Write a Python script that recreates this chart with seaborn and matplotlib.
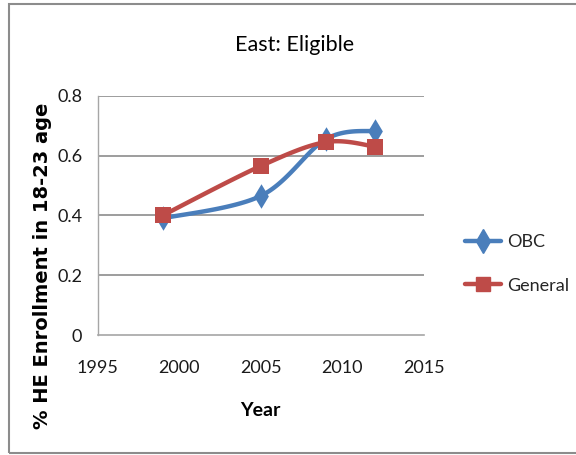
import numpy as np
import matplotlib
matplotlib.use("Agg")
import matplotlib.pyplot as plt
from matplotlib.lines import Line2D
from matplotlib.patches import Rectangle
import seaborn as sns

# Data
years = [1999, 2005, 2009, 2012]
obc = [0.39, 0.465, 0.655, 0.683]
general = [0.40, 0.565, 0.645, 0.63]
series_names = ["OBC", "General"]
x_ticks = [1995, 2000, 2005, 2010, 2015]
y_ticks = [0, 0.2, 0.4, 0.6, 0.8]
y_tick_labels = ["0", "0.2", "0.4", "0.6", "0.8"]

colors = {"OBC": "#4A7EBB", "General": "#BE4B48"}
markers = {"OBC": "d", "General": "s"}
msizes = {"OBC": 12.5, "General": 11}

sns.set_theme(style="white")
plt.rcParams["font.family"] = ["Lato", "DejaVu Sans"]


def smooth_curve(xs, ys, n=40):
    """Cubic Bezier smoothing through the points (Catmull-Rom style)."""
    xs = np.asarray(xs, float)
    ys = np.asarray(ys, float)
    px = np.concatenate([[xs[0]], xs, [xs[-1]]])
    py = np.concatenate([[ys[0]], ys, [ys[-1]]])
    out_x, out_y = [], []
    t = np.linspace(0, 1, n)
    for i in range(1, len(px) - 2):
        p0 = np.array([px[i], py[i]])
        p3 = np.array([px[i + 1], py[i + 1]])
        c1 = p0 + (np.array([px[i + 1], py[i + 1]]) - np.array([px[i - 1], py[i - 1]])) / 6
        c2 = p3 - (np.array([px[i + 2], py[i + 2]]) - np.array([px[i], py[i]])) / 6
        b = ((1 - t) ** 3)[:, None] * p0 + (3 * (1 - t) ** 2 * t)[:, None] * c1 \
            + (3 * (1 - t) * t ** 2)[:, None] * c2 + (t ** 3)[:, None] * p3
        out_x.extend(b[:, 0])
        out_y.extend(b[:, 1])
    return np.array(out_x), np.array(out_y)


fig = plt.figure(figsize=(5.76, 4.55), dpi=100)
ax = fig.add_axes([97.5 / 576, 1 - 335 / 455, (424 - 97.5) / 576, (335 - 95.7) / 455])

for name, vals in zip(series_names, [obc, general]):
    sx, sy = smooth_curve(years, vals)
    sns.lineplot(x=sx, y=sy, sort=False, estimator=None, ax=ax,
                 color=colors[name], linewidth=3.2, zorder=3)
    sns.scatterplot(x=years, y=vals, ax=ax, marker=markers[name],
                    s=msizes[name] ** 2, color=colors[name],
                    edgecolor=colors[name], linewidth=0, zorder=4)

ax.set_xlim(1995, 2015)
ax.set_ylim(0, 0.8)
ax.set_xticks(x_ticks)
ax.set_xticklabels([str(v) for v in x_ticks], fontsize=13)
ax.set_yticks(y_ticks)
ax.set_yticklabels(y_tick_labels, fontsize=13)
ax.tick_params(axis="x", length=0, pad=18, colors="#1A1A1A")
ax.tick_params(axis="y", length=0, pad=11, colors="#1A1A1A")

for yv in y_ticks[1:]:
    ax.axhline(yv, color="#8C8C8C", linewidth=1.2, zorder=1)

for side in ["top", "right"]:
    ax.spines[side].set_visible(False)
ax.spines["left"].set_color("#A6A6A6")
ax.spines["bottom"].set_color("#A6A6A6")
ax.spines["left"].set_linewidth(1.0)
ax.spines["bottom"].set_linewidth(1.2)

ax.set_xlabel("Year", fontsize=14, fontweight="bold", labelpad=19, color="#000000")
ax.set_ylabel("")
fig.text(43 / 576, 1 - 266 / 455, "% HE Enrollment in 18-23 age", rotation=90,
         ha="center", va="center", fontsize=14, fontweight="bold",
         family=["DejaVu Sans"], color="#000000")

fig.text(295 / 576, 1 - 45 / 455, "East: Eligible", ha="center", va="center",
         fontsize=15.5, color="#000000")

handles = [Line2D([0], [0], color=colors[n], linewidth=3.2, marker=markers[n],
                  markersize=msizes[n] * 0.95) for n in series_names]
leg = fig.legend(handles, series_names, loc="center left",
                 bbox_to_anchor=(458 / 576, 1 - 264 / 455), frameon=False,
                 fontsize=13, handlelength=2.0, handletextpad=0.3,
                 labelspacing=1.5, borderaxespad=0.0)

# Outer chart border
fig.patches.append(Rectangle((9 / 576, 2 / 455), 1 - 9 / 576 + 0.01, 1 - 6 / 455,
                             transform=fig.transFigure, fill=False,
                             edgecolor="#8C8C8C", linewidth=1.5))

fig.savefig("out.png", dpi=100)
